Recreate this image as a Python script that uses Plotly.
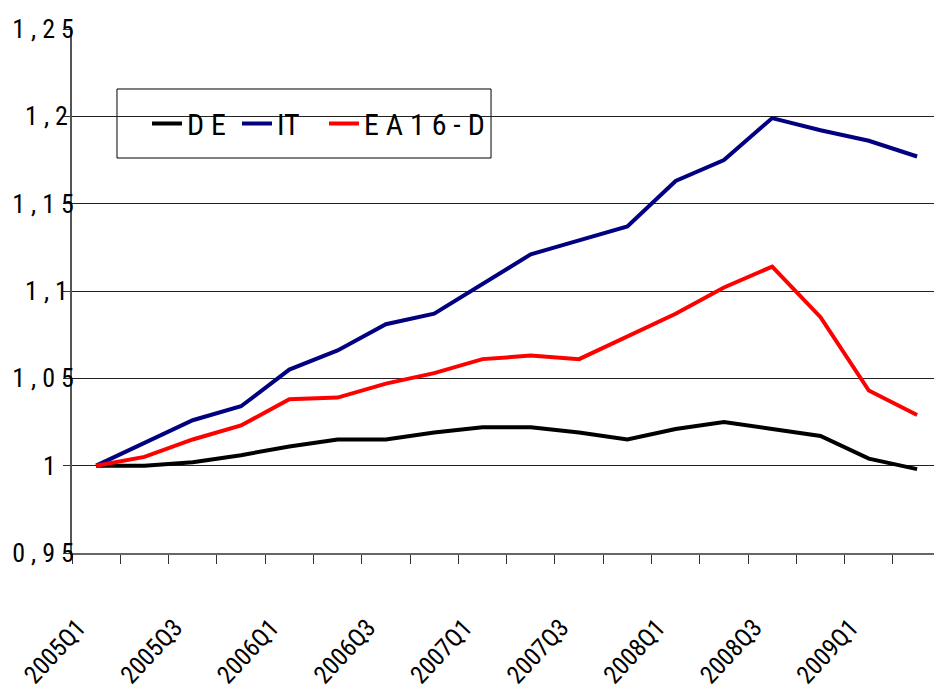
import plotly.graph_objects as go

# Quarterly index series, 2005Q1 = 1
quarters = ["2005Q1", "2005Q2", "2005Q3", "2005Q4",
            "2006Q1", "2006Q2", "2006Q3", "2006Q4",
            "2007Q1", "2007Q2", "2007Q3", "2007Q4",
            "2008Q1", "2008Q2", "2008Q3", "2008Q4",
            "2009Q1", "2009Q2"]

de = [1.000, 1.000, 1.002, 1.006, 1.011, 1.015, 1.015, 1.019, 1.022,
      1.022, 1.019, 1.015, 1.021, 1.025, 1.021, 1.017, 1.004, 0.998]
it = [1.000, 1.013, 1.026, 1.034, 1.055, 1.066, 1.081, 1.087, 1.104,
      1.121, 1.129, 1.137, 1.163, 1.175, 1.199, 1.192, 1.186, 1.177]
ea16_d = [1.000, 1.005, 1.015, 1.023, 1.038, 1.039, 1.047, 1.053, 1.061,
          1.063, 1.061, 1.074, 1.087, 1.102, 1.114, 1.085, 1.043, 1.029]

series_names = ["D E", "IT", "E A 1 6 - D"]
series_colors = ["#000000", "#000080", "#FF0000"]
legend_widths = [45, 42, 130]

y_tick_vals = [0.95, 1.0, 1.05, 1.1, 1.15, 1.2, 1.25]
y_tick_text = ["0 , 9 5", "1\u00a0\u00a0\u00a0", "1 , 0 5", "1 , 1\u00a0",
               "1 , 1 5", "1 , 2\u00a0", "1 , 2 5"]

x_tick_text = [q if i % 2 == 0 else "" for i, q in enumerate(quarters)]

FONT = "Roboto Condensed, DejaVu Sans Condensed, sans-serif"

fig = go.Figure()
for name, vals, col, lw in zip(series_names, [de, it, ea16_d], series_colors, legend_widths):
    fig.add_trace(go.Scatter(
        x=quarters, y=vals, name=name, mode="lines",
        line=dict(color=col, width=4), legendwidth=lw,
    ))

# Legend frame
fig.add_shape(type="rect", xref="paper", yref="paper",
              x0=0.0522, x1=0.4861, y0=0.7538, y1=0.8855,
              line=dict(color="#000000", width=1), fillcolor="#ffffff",
              layer="between")

fig.update_layout(
    width=934, height=698,
    margin=dict(l=72, r=0, t=29, b=145, autoexpand=False),
    paper_bgcolor="#ffffff", plot_bgcolor="#ffffff",
    font=dict(family=FONT, color="#000000", size=26),
    showlegend=True,
    legend=dict(
        orientation="h", x=0.087, y=0.8197, xanchor="left", yanchor="middle",
        bgcolor="rgba(0,0,0,0)", borderwidth=0,
        font=dict(family=FONT, size=30, color="#000000"),
    ),
    xaxis=dict(
        type="category", range=[-0.5, 17.35], automargin=False,
        tickmode="array", tickvals=quarters, ticktext=x_tick_text,
        tickson="boundaries", ticks="outside", ticklen=9, tickwidth=1,
        tickcolor="#333333", tickangle=-47, ticklabelstandoff=48,
        ticklabelshift=-18,
        tickfont=dict(family=FONT, size=25),
        showline=True, linecolor="#666666", linewidth=2,
        showgrid=False, zeroline=False,
    ),
    yaxis=dict(
        range=[0.95, 1.25], tickmode="array", automargin=False,
        tickvals=y_tick_vals, ticktext=y_tick_text,
        ticks="outside", ticklen=7, tickcolor="#333333",
        ticklabelstandoff=-16,
        tickfont=dict(family=FONT, size=26),
        showline=True, linecolor="#555555", linewidth=2,
        showgrid=True, gridcolor="#222222", gridwidth=1,
        zeroline=False,
    ),
)

fig.write_html("out.html")
